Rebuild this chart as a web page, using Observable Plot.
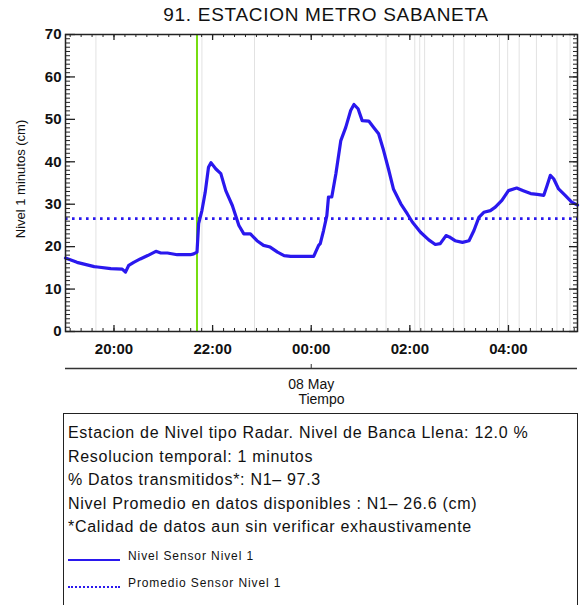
<!DOCTYPE html>
<html><head><meta charset="utf-8">
<script src="https://cdn.jsdelivr.net/npm/d3@7"></script>
<script src="https://cdn.jsdelivr.net/npm/@observablehq/plot@0.6"></script>
<style>
body{margin:0;background:#fff;font-family:"Liberation Sans",Arial,sans-serif;color:#111;}
#wrap{position:relative;width:581px;height:605px;overflow:hidden;background:#fff;}
#title{position:absolute;left:0;top:4px;width:652px;text-align:center;font-size:19px;letter-spacing:0.7px;white-space:nowrap;}
#chart{position:absolute;left:0;top:0;}
#legend{position:absolute;left:63px;top:413px;width:515px;height:220px;border:1.5px solid #222;box-sizing:border-box;}
#legend .ln{position:absolute;left:4px;font-size:16px;letter-spacing:0.7px;white-space:nowrap;line-height:20px;}
#legend .it{position:absolute;left:64px;font-size:12px;letter-spacing:0.9px;white-space:nowrap;line-height:14px;}
#legend .sw{position:absolute;left:4px;width:52px;}
</style></head>
<body><div id="wrap">
<div id="chart"></div>
<div id="title">91. ESTACION METRO SABANETA</div>
<div id="legend"></div>
</div>
<script>
// ---- data ----
const times = ["19:01","19:15","19:36","19:40","19:56","20:10","20:14","20:18","20:24","20:32","20:41","20:51","20:57","21:05","21:17","21:29","21:33","21:37","21:41","21:43","21:47","21:51","21:55","21:58","22:04","22:10","22:16","22:24","22:32","22:38","22:46","22:54","23:02","23:10","23:19","23:27","23:35","00:03","00:09","00:11","00:15","00:19","00:21","00:25","00:30","00:36","00:42","00:48","00:52","00:57","01:02","01:10","01:16","01:22","01:28","01:34","01:40","01:49","01:57","02:03","02:13","02:23","02:31","02:37","02:44","02:48","02:55","03:04","03:12","03:18","03:24","03:30","03:38","03:44","03:52","04:00","04:10","04:18","04:27","04:35","04:43","04:47","04:51","04:55","05:01","05:09","05:17","05:24"];
const nivel = [17.3,16.3,15.3,15.2,14.8,14.7,14.0,15.6,16.3,17.1,17.9,18.9,18.5,18.5,18.1,18.1,18.1,18.3,18.7,25.4,28.5,32.8,38.7,39.8,38.3,37.2,33.2,29.7,25.0,23.0,23.0,21.4,20.3,19.9,18.7,17.9,17.7,17.7,20.3,20.7,23.8,27.3,31.7,31.7,37.2,45.0,48.1,52.1,53.5,52.5,49.7,49.6,48.1,46.6,42.7,38.3,33.6,30.1,27.7,25.8,23.4,21.6,20.5,20.7,22.6,22.3,21.4,21.0,21.4,23.8,26.9,28.1,28.5,29.3,30.9,33.2,33.8,33.2,32.5,32.3,32.1,34.4,36.8,36.0,33.6,32.1,30.5,29.8];
const promedio = 26.6;
const gapTimes = ["19:38","21:47","22:51","01:31","02:06","02:12","02:18","02:53","03:06","03:49","03:59","04:13","04:34","04:59","05:15"];
const greenTime = "21:41";
const xStart = "19:01", xEnd = "05:24";
const xMajorLabels = ["20:00","22:00","00:00","02:00","04:00"];
const yMajor = [0,10,20,30,40,50,60,70];
const dayLabel = "08 May";
const legendLines = [
  "Estacion de Nivel tipo Radar. Nivel de Banca Llena: 12.0 %",
  "Resolucion temporal: 1 minutos",
  "% Datos transmitidos*: N1\u2013 97.3",
  "Nivel Promedio en datos disponibles : N1\u2013 26.6 (cm)",
  "*Calidad de datos aun sin verificar exhaustivamente"
];
const legendItems = ["Nivel Sensor Nivel 1","Promedio Sensor Nivel 1"];

// ---- helpers ----
function toDate(t){const [h,m]=t.split(":").map(Number);return new Date(Date.UTC(2024,4,h>=12?7:8,h,m));}
const data = times.map((t,i)=>({t:toDate(t), v:nivel[i]}));
const xMajor = xMajorLabels.map(toDate);
const midnight = toDate("00:00");
const x0 = toDate(xStart), x1 = toDate(xEnd);
const step = 120/9*60000;
const xMinor = [];
for (let k=-10;k<60;k++){const d=new Date(xMajor[0].getTime()+k*step); if(d>=x0 && d<=x1) xMinor.push(d);}
const yMinor = d3.range(0,71,1);
const blue = "#2a18ee";
const W=581,H=410,mL=65,mR=4,mT=34,mB=79,pw=W-mL-mR,ph=H-mT-mB;
const fmt = d3.utcFormat("%H:%M");

const plot = Plot.plot({
  width:W,height:H,marginLeft:mL,marginRight:mR,marginTop:mT,marginBottom:mB,
  style:{fontFamily:"'Liberation Sans', Arial, sans-serif",background:"transparent",color:"#111"},
  x:{type:"utc",domain:[x0,x1]},
  y:{domain:[0,70]},
  marks:[
    Plot.ruleX(gapTimes.map(toDate),{stroke:"#e2e2e2",strokeWidth:1}),
    Plot.ruleX([toDate(greenTime)],{stroke:"#76dd10",strokeWidth:2}),
    Plot.ruleY([promedio],{stroke:blue,strokeWidth:2.6,strokeDasharray:"2.6,4.4"}),
    Plot.line(data,{x:"t",y:"v",stroke:blue,strokeWidth:3.2,strokeLinejoin:"round"}),
    Plot.frame({stroke:"#222",strokeWidth:1.5}),
    Plot.tickY(yMajor,{y:d=>d,insetRight:pw-10,stroke:"#222",strokeWidth:1.3}),
    Plot.tickY(yMinor,{y:d=>d,insetRight:pw-5,stroke:"#222"}),
    Plot.tickY(yMajor,{y:d=>d,insetLeft:pw-8,stroke:"#222",strokeWidth:1.3}),
    Plot.tickY(yMinor,{y:d=>d,insetLeft:pw-4,stroke:"#222"}),
    Plot.tickX(xMajor,{x:d=>d,insetTop:ph-6,stroke:"#222",strokeWidth:1.3}),
    Plot.tickX(xMinor,{x:d=>d,insetTop:ph-3,stroke:"#222"}),
    Plot.tickX(xMajor,{x:d=>d,insetBottom:ph-6,stroke:"#222",strokeWidth:1.3}),
    Plot.tickX(xMinor,{x:d=>d,insetBottom:ph-3,stroke:"#222"}),
    Plot.axisY(yMajor,{tickSize:0,tickPadding:4,fontSize:15,fontWeight:"bold",label:null}),
    Plot.axisX(xMajor,{tickSize:0,tickPadding:12,fontSize:15,fontWeight:"bold",tickFormat:fmt,label:null}),
    Plot.text(["Nivel 1 minutos (cm)"],{text:d=>d,frameAnchor:"left",textAnchor:"middle",dx:-45,dy:-4,rotate:-90,fontSize:13}),
    Plot.ruleY([0],{dy:37,stroke:"#333",strokeWidth:1.5}),
    Plot.tickX([midnight],{x:d=>d,insetTop:ph-4,dy:37,stroke:"#333"}),
    Plot.text([dayLabel],{text:d=>d,x:()=>midnight,frameAnchor:"bottom",dy:57,fontSize:14,style:"letter-spacing:1px"}),
    Plot.text(["Tiempo"],{text:d=>d,frameAnchor:"bottom",dy:72,fontSize:14})
  ]
});
document.getElementById("chart").appendChild(plot);

// legend box
const lg = document.getElementById("legend");
legendLines.forEach((s,i)=>{const d=document.createElement("div");d.className="ln";d.style.top=(9+i*23.5)+"px";d.textContent=s;lg.appendChild(d);});
const itemTops=[135,162];
legendItems.forEach((s,i)=>{
  const d=document.createElement("div");d.className="it";d.style.top=itemTops[i]+"px";d.textContent=s;lg.appendChild(d);
  const sw=document.createElement("div");sw.className="sw";sw.style.top=(itemTops[i]+10)+"px";
  sw.style.borderTop = i===0 ? "2px solid "+blue : "2px dotted "+blue;
  lg.appendChild(sw);
});
</script>
</body></html>
